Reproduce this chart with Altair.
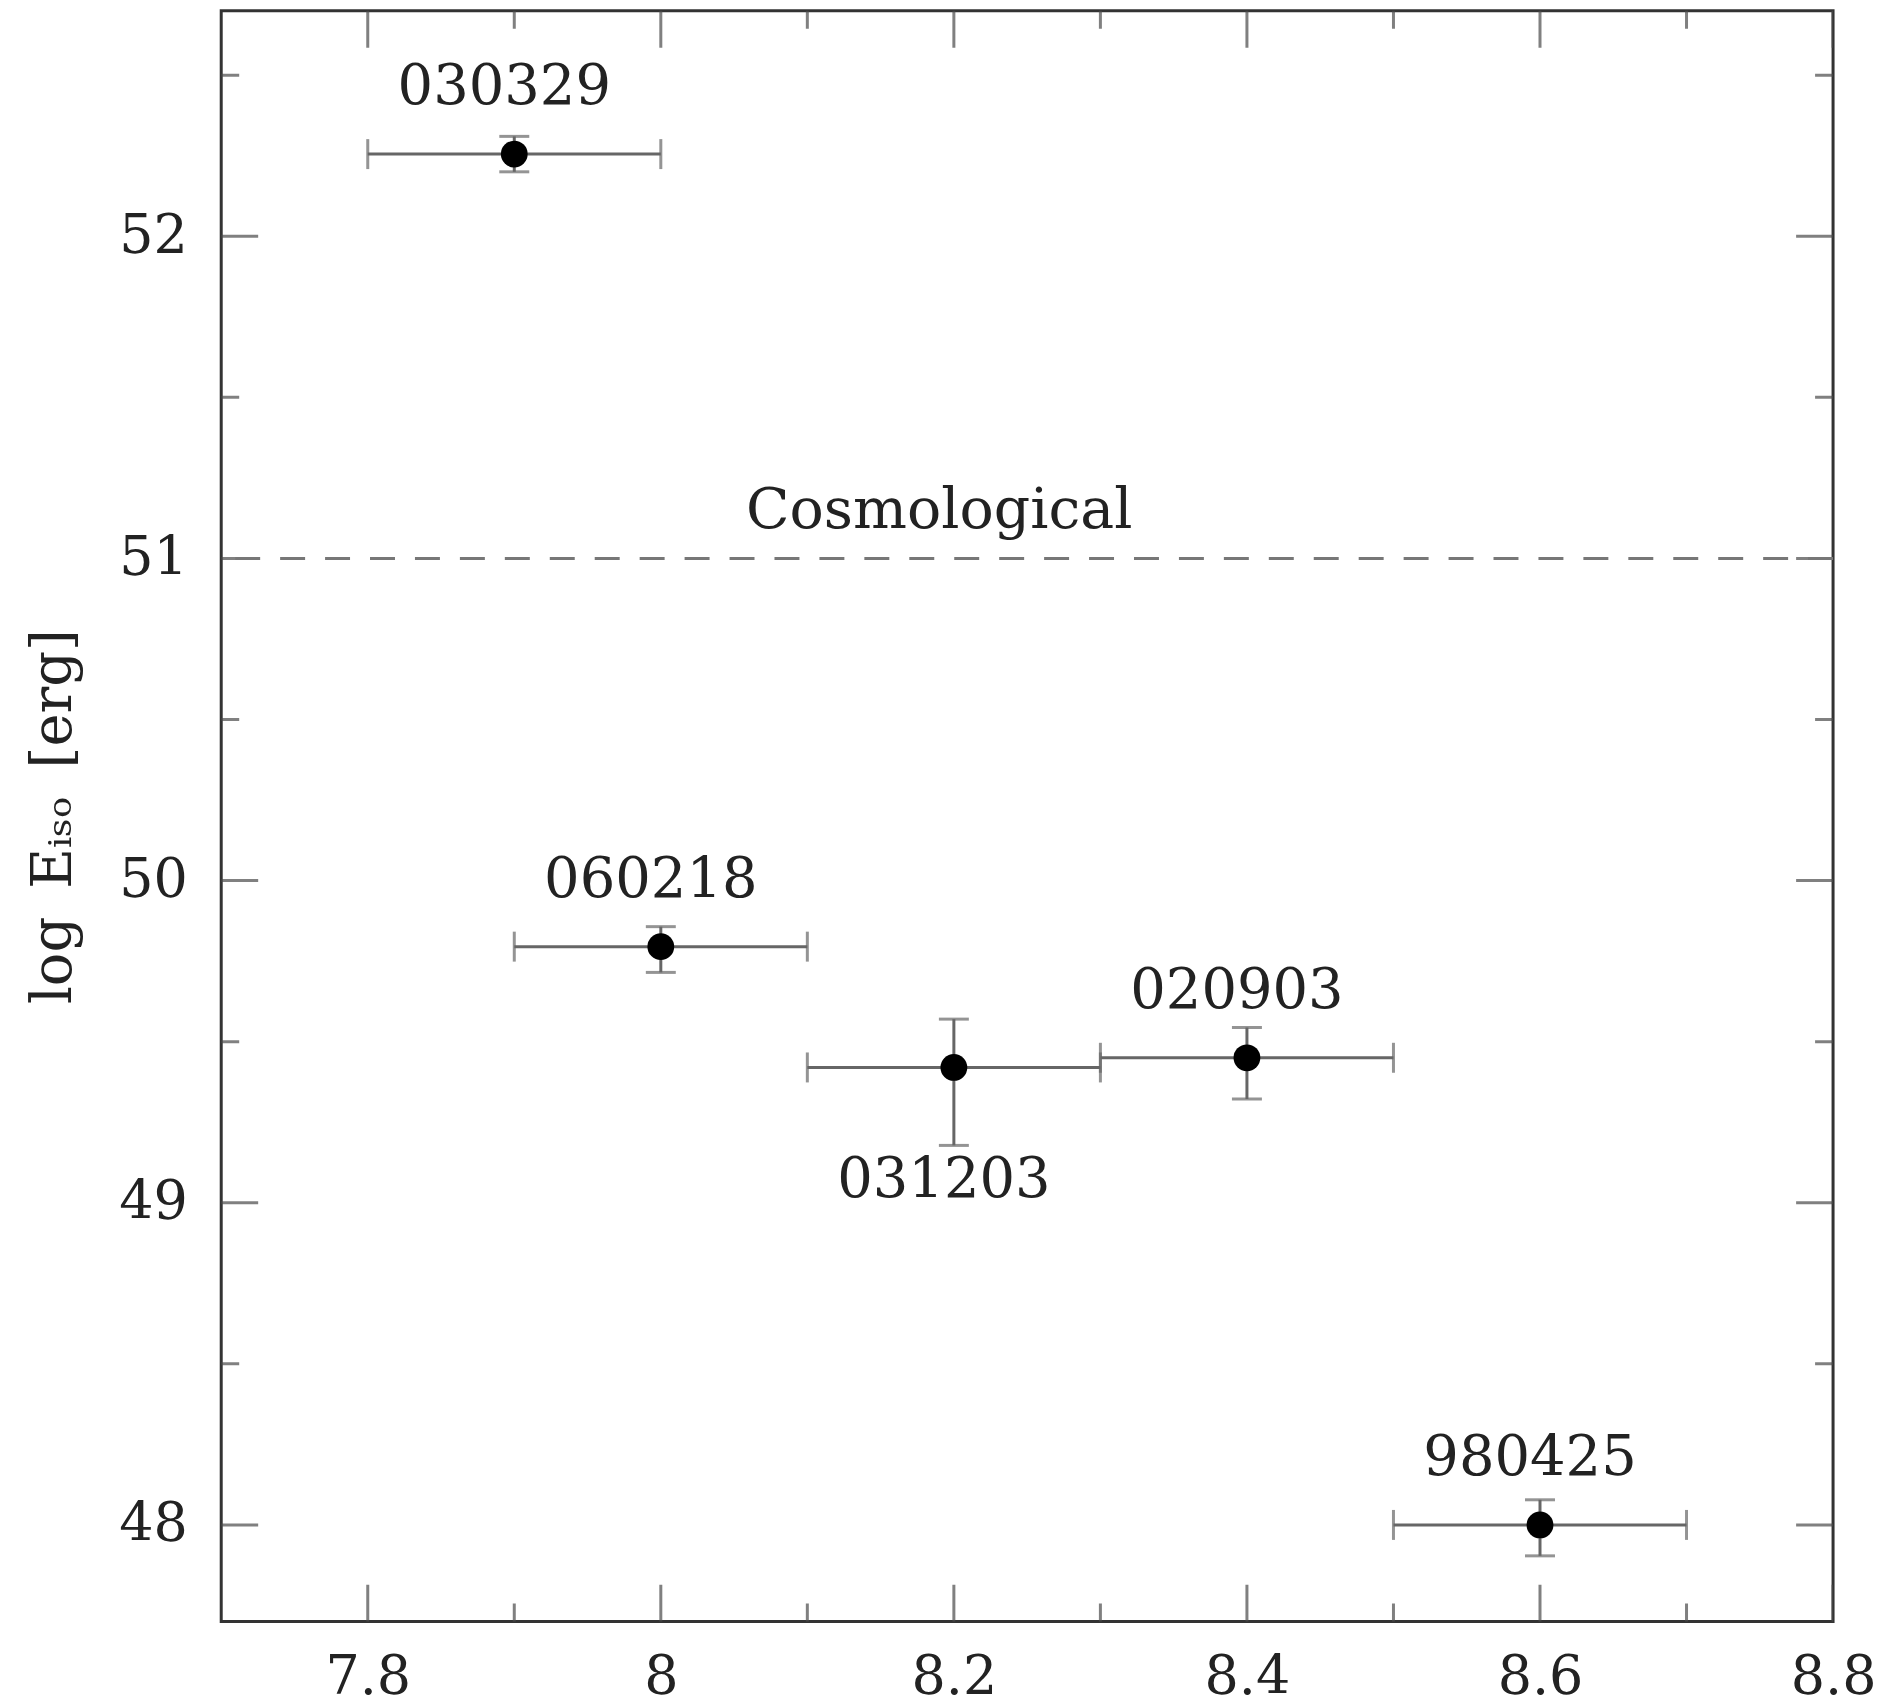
import altair as alt
import pandas as pd

# ---- data ----
grb = ["030329", "060218", "031203", "020903", "980425"]
log_x = [7.9, 8.0, 8.2, 8.4, 8.6]
x_lo = [7.8, 7.9, 8.1, 8.3, 8.5]
x_hi = [8.0, 8.1, 8.3, 8.5, 8.7]
log_e = [52.255, 49.795, 49.42, 49.45, 48.0]
e_lo = [52.20, 49.715, 49.178, 49.322, 47.904]
e_hi = [52.31, 49.857, 49.570, 49.544, 48.078]
label_side = ["above", "above", "below", "above", "above"]

x_major = [7.8, 8.0, 8.2, 8.4, 8.6, 8.8]
x_minor = [7.9, 8.1, 8.3, 8.5, 8.7]
y_major = [48, 49, 50, 51, 52]
y_minor = [48.5, 49.5, 50.5, 51.5, 52.5]

threshold = [51.0]
threshold_label = ["Cosmological"]
threshold_label_x = [8.19]

x_domain = [7.7, 8.8]
y_domain = [47.7, 52.7]

FONT = "DejaVu Serif"
TXT = "#222222"
BAR = "#666666"
TICK = "#4a4a4a"
Y_TITLE = "log\u2002Eᵢₛₒ\u2002[erg]"

df = pd.DataFrame({
    "grb": grb, "x": log_x, "xlo": x_lo, "xhi": x_hi,
    "y": log_e, "ylo": e_lo, "yhi": e_hi, "side": label_side,
})

xs = alt.Scale(domain=x_domain, nice=False, zero=False)
ys = alt.Scale(domain=y_domain, nice=False, zero=False)

x_axis = alt.Axis(
    values=x_major, format=".1~f", ticks=False, tickSize=0,
    domain=False, grid=False, labelFont=FONT, labelFontSize=54,
    labelColor=TXT, labelPadding=29, labelFlush=False,
)
y_axis = alt.Axis(
    values=y_major, format="d", ticks=False, tickSize=0,
    domain=False, grid=False, labelFont=FONT, labelFontSize=54,
    labelColor=TXT, labelPadding=34, labelFlush=False,
    titleFont=FONT, titleFontSize=56, titleFontWeight="normal",
    titleColor=TXT, titlePadding=36,
)


def X(field):
    return alt.X(field, scale=xs, axis=x_axis, title=None)


def Y(field):
    return alt.Y(field, scale=ys, axis=y_axis, title=Y_TITLE)


base = alt.Chart(df)

# horizontal error bars
xbar = base.mark_rule(color=BAR, strokeWidth=3).encode(
    y=Y("y:Q"), x=X("xlo:Q"), x2="xhi:Q")
xcap_lo = base.mark_tick(orient="vertical", size=30, thickness=3, color=BAR).encode(
    x=X("xlo:Q"), y=Y("y:Q"))
xcap_hi = base.mark_tick(orient="vertical", size=30, thickness=3, color=BAR).encode(
    x=X("xhi:Q"), y=Y("y:Q"))

# vertical error bars
ybar = base.mark_rule(color=BAR, strokeWidth=3).encode(
    x=X("x:Q"), y=Y("ylo:Q"), y2="yhi:Q")
ycap_lo = base.mark_tick(orient="horizontal", size=30, thickness=3, color=BAR).encode(
    x=X("x:Q"), y=Y("ylo:Q"))
ycap_hi = base.mark_tick(orient="horizontal", size=30, thickness=3, color=BAR).encode(
    x=X("x:Q"), y=Y("yhi:Q"))

points = base.mark_circle(size=720, color="black", opacity=1).encode(
    x=X("x:Q"), y=Y("y:Q"))

labels_above = base.transform_filter(alt.datum.side == "above").mark_text(
    font=FONT, fontSize=56, color=TXT, baseline="middle", align="center",
    dy=-67, dx=-10,
).encode(x=X("x:Q"), y=Y("y:Q"), text="grb:N")

labels_below = base.transform_filter(alt.datum.side == "below").mark_text(
    font=FONT, fontSize=56, color=TXT, baseline="middle", align="center",
    dy=113, dx=-10,
).encode(x=X("x:Q"), y=Y("y:Q"), text="grb:N")

# cosmological threshold
thr_df = pd.DataFrame({"y": threshold, "x": threshold_label_x, "label": threshold_label})
thr_line = alt.Chart(thr_df).mark_rule(
    color="#777777", strokeWidth=3, strokeDash=[25, 20]
).encode(y=Y("y:Q"))
thr_text = alt.Chart(thr_df).mark_text(
    font=FONT, fontSize=57, color=TXT, baseline="alphabetic", align="center", dy=-30,
).encode(x=X("x:Q"), y=Y("y:Q"), text="label:N")


# inward ticks on all four sides (half of each tick is clipped away)
def xticks(vals, length, edge):
    d = pd.DataFrame({"v": vals, "edge": [edge] * len(vals)})
    return alt.Chart(d).mark_tick(
        orient="vertical", size=2 * length, thickness=3, color=TICK, clip=True
    ).encode(x=X("v:Q"), y=Y("edge:Q"))


def yticks(vals, length, edge):
    d = pd.DataFrame({"v": vals, "edge": [edge] * len(vals)})
    return alt.Chart(d).mark_tick(
        orient="horizontal", size=2 * length, thickness=3, color=TICK, clip=True
    ).encode(y=Y("v:Q"), x=X("edge:Q"))


ticks = [
    xticks(x_major, 37, y_domain[0]), xticks(x_minor, 18, y_domain[0]),
    xticks(x_major, 37, y_domain[1]), xticks(x_minor, 18, y_domain[1]),
    yticks(y_major, 37, x_domain[0]), yticks(y_minor, 18, x_domain[0]),
    yticks(y_major, 37, x_domain[1]), yticks(y_minor, 18, x_domain[1]),
]

chart = alt.layer(
    *ticks, thr_line, thr_text, xbar, xcap_lo, xcap_hi, ybar, ycap_lo, ycap_hi,
    points, labels_above, labels_below
).properties(
    width=1614, height=1613,
    background="white",
    autosize=alt.AutoSizeParams(type="none"),
    padding={"left": 213.5, "top": 1.6, "right": 45, "bottom": 85},
).configure_view(
    stroke="#333333", strokeWidth=3
)

chart.save("out.html", embed_options={"renderer": "svg", "actions": False})
